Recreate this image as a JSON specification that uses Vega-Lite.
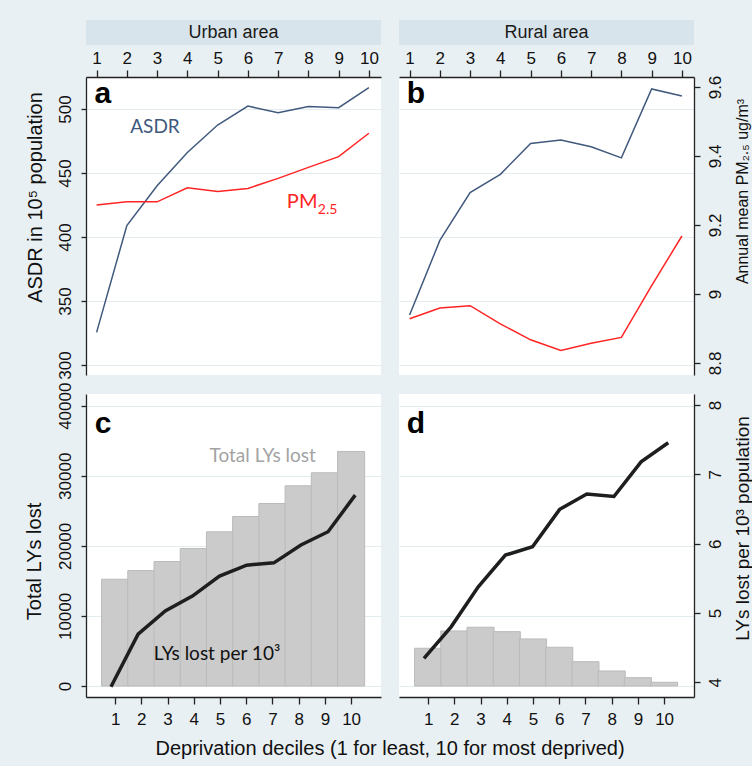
{
  "$schema": "https://vega.github.io/schema/vega-lite/v6.json",
  "background": "#e9f0f3",
  "padding": {"left": 24, "top": 20, "right": 2, "bottom": 8},
  "columns": 2,
  "bounds": "flush",
  "align": "each",
  "spacing": {"row": 19, "column": 18},
  "config": {
    "view": {"stroke": null},
    "axis": {
      "labelFont": "Liberation Sans", "titleFont": "Liberation Sans",
      "labelColor": "#111111", "titleColor": "#111111",
      "labelFontSize": 17, "titleFontSize": 20, "titleFontWeight": "normal",
      "domainColor": "#222222", "tickColor": "#222222", "domainWidth": 1.3, "tickWidth": 1.3,
      "gridColor": "#e3ecef", "gridWidth": 1.2,
      "labelFlush": false, "labelOverlap": false
    },
    "text": {"font": "Liberation Sans"}
  },
  "datasets": {
    "urban": [
      {"decile": 1, "asdr": 325.5, "pm25": 9.258, "total_lys_lost": 15240, "lys_lost_per_1000": 3.935},
      {"decile": 2, "asdr": 409, "pm25": 9.267, "total_lys_lost": 16470, "lys_lost_per_1000": 4.695},
      {"decile": 3, "asdr": 440, "pm25": 9.267, "total_lys_lost": 17760, "lys_lost_per_1000": 5.03},
      {"decile": 4, "asdr": 466, "pm25": 9.308, "total_lys_lost": 19610, "lys_lost_per_1000": 5.244},
      {"decile": 5, "asdr": 487.5, "pm25": 9.297, "total_lys_lost": 22000, "lys_lost_per_1000": 5.532},
      {"decile": 6, "asdr": 502.3, "pm25": 9.306, "total_lys_lost": 24190, "lys_lost_per_1000": 5.69},
      {"decile": 7, "asdr": 497, "pm25": 9.335, "total_lys_lost": 26040, "lys_lost_per_1000": 5.723},
      {"decile": 8, "asdr": 502, "pm25": 9.367, "total_lys_lost": 28570, "lys_lost_per_1000": 5.98},
      {"decile": 9, "asdr": 501, "pm25": 9.398, "total_lys_lost": 30430, "lys_lost_per_1000": 6.172},
      {"decile": 10, "asdr": 516.7, "pm25": 9.466, "total_lys_lost": 33470, "lys_lost_per_1000": 6.7}
    ],
    "rural": [
      {"decile": 1, "asdr": 339, "pm25": 8.928, "total_lys_lost": 5386, "lys_lost_per_1000": 4.345},
      {"decile": 2, "asdr": 397.3, "pm25": 8.959, "total_lys_lost": 7857, "lys_lost_per_1000": 4.8},
      {"decile": 3, "asdr": 434.7, "pm25": 8.966, "total_lys_lost": 8386, "lys_lost_per_1000": 5.378},
      {"decile": 4, "asdr": 449, "pm25": 8.913, "total_lys_lost": 7757, "lys_lost_per_1000": 5.835},
      {"decile": 5, "asdr": 473, "pm25": 8.867, "total_lys_lost": 6714, "lys_lost_per_1000": 5.955},
      {"decile": 6, "asdr": 475.7, "pm25": 8.836, "total_lys_lost": 5529, "lys_lost_per_1000": 6.495},
      {"decile": 7, "asdr": 470.5, "pm25": 8.857, "total_lys_lost": 3471, "lys_lost_per_1000": 6.716},
      {"decile": 8, "asdr": 461.8, "pm25": 8.874, "total_lys_lost": 2143, "lys_lost_per_1000": 6.68},
      {"decile": 9, "asdr": 515.7, "pm25": 9.024, "total_lys_lost": 1186, "lys_lost_per_1000": 7.18},
      {"decile": 10, "asdr": 510.2, "pm25": 9.168, "total_lys_lost": 529, "lys_lost_per_1000": 7.456}
    ]
  },
  "concat": [
    {
      "width": 295, "height": 38,
      "data": {"values": [{"area": "Urban area"}]},
      "layer": [
        {"mark": {"type": "rect", "color": "#d8e4eb"},
         "encoding": {
           "x": {"datum": 0, "type": "quantitative", "scale": {"domain": [0, 1], "nice": false, "zero": false}, "axis": null},
           "x2": {"datum": 1},
           "y": {"datum": 0, "type": "quantitative", "scale": {"domain": [0, 38], "reverse": true, "nice": false, "zero": false}, "axis": null},
           "y2": {"datum": 25}
         }},
        {"mark": {"type": "text", "fontSize": 18, "baseline": "middle", "align": "center", "color": "#1a1a1a"},
         "encoding": {
           "x": {"datum": 0.5, "type": "quantitative", "axis": null},
           "y": {"datum": 12.5, "type": "quantitative", "axis": null},
           "text": {"field": "area"}
         }}
      ]
    },
    {
      "width": 295, "height": 38,
      "data": {"values": [{"area": "Rural area"}]},
      "layer": [
        {"mark": {"type": "rect", "color": "#d8e4eb"},
         "encoding": {
           "x": {"datum": 0, "type": "quantitative", "scale": {"domain": [0, 1], "nice": false, "zero": false}, "axis": null},
           "x2": {"datum": 1},
           "y": {"datum": 0, "type": "quantitative", "scale": {"domain": [0, 38], "reverse": true, "nice": false, "zero": false}, "axis": null},
           "y2": {"datum": 25}
         }},
        {"mark": {"type": "text", "fontSize": 18, "baseline": "middle", "align": "center", "color": "#1a1a1a"},
         "encoding": {
           "x": {"datum": 0.5, "type": "quantitative", "axis": null},
           "y": {"datum": 12.5, "type": "quantitative", "axis": null},
           "text": {"field": "area"}
         }}
      ]
    },
    {
      "width": 295, "height": 298,
      "view": {"fill": "white", "stroke": null},
      "layer": [
        {"data": {"name": "urban"},
         "mark": {"type": "line", "color": "#40597d", "strokeWidth": 1.5},
         "encoding": {
           "x": {"field": "decile", "type": "quantitative",
                 "scale": {"domain": [0.65, 10.4], "nice": false, "zero": false},
                 "axis": {"orient": "top", "values": [1, 2, 3, 4, 5, 6, 7, 8, 9, 10], "title": null, "tickSize": 7, "labelPadding": 3, "grid": false, "labelOverlap": false}},
           "y": {"field": "asdr", "type": "quantitative",
                 "scale": {"domain": [292.2, 525], "nice": false, "zero": false},
                 "axis": {"orient": "left", "values": [300, 350, 400, 450, 500], "title": "ASDR in 10⁵ population",
                          "titleX": -51, "titleY": 120, "titleAngle": 270, "titleAlign": "center", "titleBaseline": "middle",
                          "labelAngle": 270, "labelAlign": "center", "labelBaseline": "bottom", "labelPadding": 7, "tickSize": 5, "grid": true, "labelOverlap": false}}
         }},
        {"data": {"name": "urban"},
         "mark": {"type": "line", "color": "#ff2424", "strokeWidth": 1.5},
         "encoding": {
           "x": {"field": "decile", "type": "quantitative", "scale": {"domain": [0.65, 10.4], "nice": false, "zero": false}, "axis": null},
           "y": {"field": "pm25", "type": "quantitative", "scale": {"domain": [8.765, 9.629], "nice": false, "zero": false}, "axis": null}
         }},
        {"data": {"values": [{"label": "a"}]},
         "mark": {"type": "text", "fontSize": 30, "fontWeight": "bold", "align": "center", "baseline": "alphabetic", "color": "#000000"},
         "encoding": {
           "x": {"datum": 1.21, "type": "quantitative", "scale": {"domain": [0.65, 10.4], "nice": false, "zero": false}, "axis": null},
           "y": {"datum": 504.7, "type": "quantitative", "scale": {"domain": [292.2, 525], "nice": false, "zero": false}, "axis": null},
           "text": {"field": "label"}}},
        {"data": {"values": [{"label": "ASDR"}]},
         "mark": {"type": "text", "font": "Lato", "fontSize": 19, "align": "center", "baseline": "alphabetic", "color": "#40597d"},
         "encoding": {
           "x": {"datum": 2.93, "type": "quantitative", "scale": {"domain": [0.65, 10.4], "nice": false, "zero": false}, "axis": null},
           "y": {"datum": 481.3, "type": "quantitative", "scale": {"domain": [292.2, 525], "nice": false, "zero": false}, "axis": null},
           "text": {"field": "label"}}},
        {"data": {"values": [{"label": "PM"}]},
         "mark": {"type": "text", "font": "Lato", "fontSize": 20, "align": "right", "baseline": "alphabetic", "color": "#ff2424"},
         "encoding": {
           "x": {"datum": 8.3, "type": "quantitative", "scale": {"domain": [0.65, 10.4], "nice": false, "zero": false}, "axis": null},
           "y": {"datum": 422.7, "type": "quantitative", "scale": {"domain": [292.2, 525], "nice": false, "zero": false}, "axis": null},
           "text": {"field": "label"}}},
        {"data": {"values": [{"label": "2.5"}]},
         "mark": {"type": "text", "font": "Lato", "fontSize": 14, "align": "left", "baseline": "alphabetic", "color": "#ff2424"},
         "encoding": {
           "x": {"datum": 8.31, "type": "quantitative", "scale": {"domain": [0.65, 10.4], "nice": false, "zero": false}, "axis": null},
           "y": {"datum": 418, "type": "quantitative", "scale": {"domain": [292.2, 525], "nice": false, "zero": false}, "axis": null},
           "text": {"field": "label"}}}
      ],
      "resolve": {"scale": {"x": "independent", "y": "independent"}, "axis": {"x": "independent", "y": "independent"}}
    },
    {
      "width": 295, "height": 298,
      "view": {"fill": "white", "stroke": null},
      "layer": [
        {"data": {"name": "rural"},
         "mark": {"type": "line", "color": "#40597d", "strokeWidth": 1.5},
         "encoding": {
           "x": {"field": "decile", "type": "quantitative",
                 "scale": {"domain": [0.65, 10.4], "nice": false, "zero": false},
                 "axis": {"orient": "top", "values": [1, 2, 3, 4, 5, 6, 7, 8, 9, 10], "title": null, "tickSize": 7, "labelPadding": 3, "grid": false, "labelOverlap": false}},
           "y": {"field": "asdr", "type": "quantitative",
                 "scale": {"domain": [292.2, 525], "nice": false, "zero": false},
                 "axis": {"orient": "left", "values": [300, 350, 400, 450, 500], "title": null, "labels": false, "ticks": false, "domain": false, "grid": true}}
         }},
        {"data": {"name": "rural"},
         "mark": {"type": "line", "color": "#ff2424", "strokeWidth": 1.5},
         "encoding": {
           "x": {"field": "decile", "type": "quantitative", "scale": {"domain": [0.65, 10.4], "nice": false, "zero": false}, "axis": null},
           "y": {"field": "pm25", "type": "quantitative", "scale": {"domain": [8.765, 9.629], "nice": false, "zero": false},
                 "axis": {"orient": "right", "values": [8.8, 9, 9.2, 9.4, 9.6], "format": "~g", "title": "Annual mean PM₂.₅ ug/m³",
                          "titleX": 48, "titleY": 114, "titleAngle": 270, "titleAlign": "center", "titleBaseline": "middle", "titleFontSize": 16,
                          "labelAngle": 270, "labelAlign": "center", "labelBaseline": "top", "labelPadding": 7, "tickSize": 6, "grid": false, "labelOverlap": false}}
         }},
        {"data": {"values": [{"label": "b"}]},
         "mark": {"type": "text", "fontSize": 30, "fontWeight": "bold", "align": "center", "baseline": "alphabetic", "color": "#000000"},
         "encoding": {
           "x": {"datum": 1.21, "type": "quantitative", "scale": {"domain": [0.65, 10.4], "nice": false, "zero": false}, "axis": null},
           "y": {"datum": 504.7, "type": "quantitative", "scale": {"domain": [292.2, 525], "nice": false, "zero": false}, "axis": null},
           "text": {"field": "label"}}}
      ],
      "resolve": {"scale": {"x": "independent", "y": "independent"}, "axis": {"x": "independent", "y": "independent"}}
    },
    {
      "width": 295, "height": 303,
      "view": {"fill": "white", "stroke": null},
      "layer": [
        {"data": {"name": "urban"},
         "mark": {"type": "bar", "size": 27.1, "color": "#cbcbcb", "stroke": "#bababa", "strokeWidth": 1},
         "encoding": {
           "x": {"field": "decile", "type": "quantitative",
                 "scale": {"domain": [0.08, 10.95], "nice": false, "zero": false},
                 "axis": {"orient": "bottom", "values": [1, 2, 3, 4, 5, 6, 7, 8, 9, 10], "title": "Deprivation deciles (1 for least, 10 for most deprived)",
                          "titleX": 303.5, "titleY": 51, "titleAlign": "center", "titleBaseline": "middle", "titleFontSize": 20,
                          "tickSize": 7, "labelPadding": 7, "grid": false, "labelOverlap": false}},
           "y": {"field": "total_lys_lost", "type": "quantitative",
                 "scale": {"domain": [-1570, 41670], "nice": false, "zero": false},
                 "axis": {"orient": "left", "values": [0, 10000, 20000, 30000, 40000], "format": "d", "title": "Total LYs lost",
                          "titleX": -51.5, "titleY": 167, "titleAngle": 270, "titleAlign": "center", "titleBaseline": "middle",
                          "labelAngle": 270, "labelAlign": "center", "labelBaseline": "bottom", "labelPadding": 7, "tickSize": 5, "grid": true, "labelOverlap": false}}
         }},
        {"data": {"name": "urban"},
         "mark": {"type": "line", "color": "#1e1e1e", "strokeWidth": 3.5},
         "encoding": {
           "x": {"field": "decile", "type": "quantitative", "scale": {"domain": [0.08, 10.95], "nice": false, "zero": false}, "axis": null},
           "y": {"field": "lys_lost_per_1000", "type": "quantitative", "scale": {"domain": [3.788, 8.159], "nice": false, "zero": false}, "axis": null}
         }},
        {"data": {"values": [{"label": "c"}]},
         "mark": {"type": "text", "fontSize": 30, "fontWeight": "bold", "align": "center", "baseline": "alphabetic", "color": "#000000"},
         "encoding": {
           "x": {"datum": 0.706, "type": "quantitative", "scale": {"domain": [0.08, 10.95], "nice": false, "zero": false}, "axis": null},
           "y": {"datum": 36104, "type": "quantitative", "scale": {"domain": [-1570, 41670], "nice": false, "zero": false}, "axis": null},
           "text": {"field": "label"}}},
        {"data": {"values": [{"label": "Total LYs lost"}]},
         "mark": {"type": "text", "font": "Lato", "fontSize": 19, "align": "center", "baseline": "alphabetic", "color": "#a3a3a3"},
         "encoding": {
           "x": {"datum": 6.59, "type": "quantitative", "scale": {"domain": [0.08, 10.95], "nice": false, "zero": false}, "axis": null},
           "y": {"datum": 31966, "type": "quantitative", "scale": {"domain": [-1570, 41670], "nice": false, "zero": false}, "axis": null},
           "text": {"field": "label"}}},
        {"data": {"values": [{"label": "LYs lost per 10³"}]},
         "mark": {"type": "text", "font": "Lato", "fontSize": 19, "align": "center", "baseline": "alphabetic", "color": "#111111"},
         "encoding": {
           "x": {"datum": 4.907, "type": "quantitative", "scale": {"domain": [0.08, 10.95], "nice": false, "zero": false}, "axis": null},
           "y": {"datum": 3708, "type": "quantitative", "scale": {"domain": [-1570, 41670], "nice": false, "zero": false}, "axis": null},
           "text": {"field": "label"}}}
      ],
      "resolve": {"scale": {"x": "independent", "y": "independent"}, "axis": {"x": "independent", "y": "independent"}}
    },
    {
      "width": 295, "height": 303,
      "view": {"fill": "white", "stroke": null},
      "layer": [
        {"data": {"name": "rural"},
         "mark": {"type": "bar", "size": 27.1, "color": "#cbcbcb", "stroke": "#bababa", "strokeWidth": 1},
         "encoding": {
           "x": {"field": "decile", "type": "quantitative",
                 "scale": {"domain": [0.08, 10.95], "nice": false, "zero": false},
                 "axis": {"orient": "bottom", "values": [1, 2, 3, 4, 5, 6, 7, 8, 9, 10], "title": null, "tickSize": 7, "labelPadding": 7, "grid": false, "labelOverlap": false}},
           "y": {"field": "total_lys_lost", "type": "quantitative",
                 "scale": {"domain": [-1570, 41670], "nice": false, "zero": false},
                 "axis": {"orient": "left", "values": [0, 10000, 20000, 30000, 40000], "title": null, "labels": false, "ticks": false, "domain": false, "grid": true}}
         }},
        {"data": {"name": "rural"},
         "mark": {"type": "line", "color": "#1e1e1e", "strokeWidth": 3.5},
         "encoding": {
           "x": {"field": "decile", "type": "quantitative", "scale": {"domain": [0.08, 10.95], "nice": false, "zero": false}, "axis": null},
           "y": {"field": "lys_lost_per_1000", "type": "quantitative", "scale": {"domain": [3.788, 8.159], "nice": false, "zero": false},
                 "axis": {"orient": "right", "values": [4, 5, 6, 7, 8], "format": "d", "title": "LYs lost per 10³ population",
                          "titleX": 48, "titleY": 134, "titleAngle": 270, "titleAlign": "center", "titleBaseline": "middle", "titleFontSize": 19,
                          "labelAngle": 270, "labelAlign": "center", "labelBaseline": "top", "labelPadding": 7, "tickSize": 6, "grid": false, "labelOverlap": false}}
         }},
        {"data": {"values": [{"label": "d"}]},
         "mark": {"type": "text", "fontSize": 30, "fontWeight": "bold", "align": "center", "baseline": "alphabetic", "color": "#000000"},
         "encoding": {
           "x": {"datum": 0.706, "type": "quantitative", "scale": {"domain": [0.08, 10.95], "nice": false, "zero": false}, "axis": null},
           "y": {"datum": 36104, "type": "quantitative", "scale": {"domain": [-1570, 41670], "nice": false, "zero": false}, "axis": null},
           "text": {"field": "label"}}}
      ],
      "resolve": {"scale": {"x": "independent", "y": "independent"}, "axis": {"x": "independent", "y": "independent"}}
    }
  ]
}
